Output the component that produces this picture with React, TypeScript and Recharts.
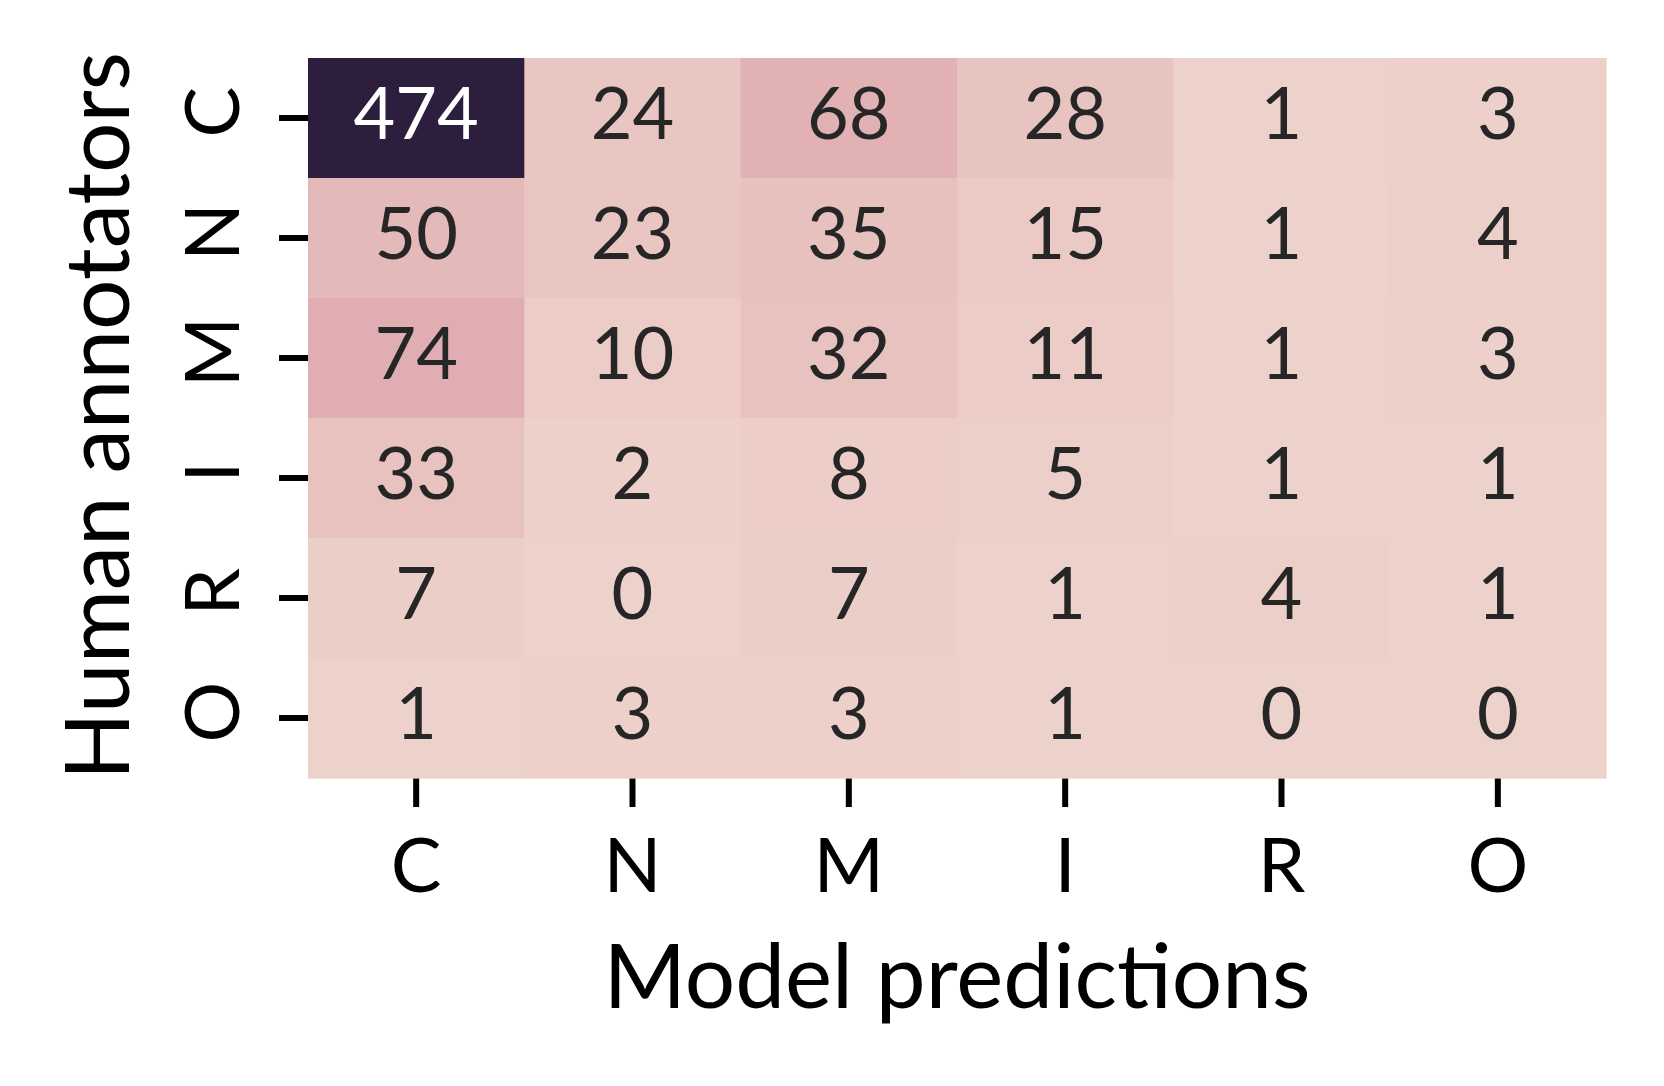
import React from 'react'
import { ScatterChart, Scatter, XAxis, YAxis, Label } from 'recharts'

const W = 1664
const H = 1086
const PLOT_LEFT = 308
const PLOT_TOP = 58
const PLOT_W = 1298
const PLOT_H = 720
const FONT = 'Lato, "Noto Sans", sans-serif'

const predLabels = ['C', 'N', 'M', 'I', 'R', 'O']
const humanLabels = ['C', 'N', 'M', 'I', 'R', 'O']

// rows = human annotators, columns = model predictions
const humanC = [474, 24, 68, 28, 1, 3]
const humanN = [50, 23, 35, 15, 1, 4]
const humanM = [74, 10, 32, 11, 1, 3]
const humanI = [33, 2, 8, 5, 1, 1]
const humanR = [7, 0, 7, 1, 4, 1]
const humanO = [1, 3, 3, 1, 0, 0]
const rows = [humanC, humanN, humanM, humanI, humanR, humanO]

const VMAX = Math.max(...rows.flat())

// seaborn cubehelix_palette(as_cmap=True) defaults
function cubehelix(x: number): [number, number, number] {
  const start = 0, rot = 0.4, hue = 0.8
  const a = (hue * x * (1 - x)) / 2
  const phi = 2 * Math.PI * (start / 3 + rot * x)
  const c = (p0: number, p1: number) =>
    Math.min(1, Math.max(0, x + a * (p0 * Math.cos(phi) + p1 * Math.sin(phi))))
  return [c(-0.14861, 1.78277), c(-0.29227, -0.90649), c(1.97294, 0)]
}

function colorFor(v: number) {
  const idx = Math.min(255, Math.floor((v / VMAX) * 256))
  const x = 0.85 + (0.15 - 0.85) * (idx / 255)
  const [r, g, b] = cubehelix(x)
  const lin = (u: number) => (u <= 0.03928 ? u / 12.92 : Math.pow((u + 0.055) / 1.055, 2.4))
  const lum = 0.2126 * lin(r) + 0.7152 * lin(g) + 0.0722 * lin(b)
  const hex = (u: number) => Math.round(u * 255).toString(16).padStart(2, '0')
  return { fill: `#${hex(r)}${hex(g)}${hex(b)}`, text: lum > 0.408 ? '#262626' : '#ffffff' }
}

const cells = rows.flatMap((row, r) =>
  row.map((value, c) => ({ x: c + 0.5, y: r + 0.5, value }))
)

const CELL_W = PLOT_W / predLabels.length
const CELL_H = PLOT_H / humanLabels.length

function Cell(props: any) {
  const { cx, cy, payload } = props
  const { fill, text } = colorFor(payload.value)
  return (
    <g>
      <rect x={cx - CELL_W / 2} y={cy - CELL_H / 2} width={CELL_W + 0.6} height={CELL_H + 0.6} fill={fill} />
      <text x={cx} y={cy + 21} textAnchor="middle" fill={text} fontSize={72} fontFamily={FONT}>
        {payload.value}
      </text>
    </g>
  )
}

function XTick(props: any) {
  const { x, y, payload } = props
  return (
    <text x={x} y={y + 55} textAnchor="middle" fill="#000" fontSize={76} fontFamily={FONT}>
      {predLabels[Math.floor(payload.value)]}
    </text>
  )
}

function YTick(props: any) {
  const { x, y, payload } = props
  return (
    <text x={x} y={y - 6} textAnchor="middle" fill="#000" fontSize={76} fontFamily={FONT}
      transform={`rotate(-90, ${x}, ${y - 6})`}>
      {humanLabels[Math.floor(payload.value)]}
    </text>
  )
}

const ticks = predLabels.map((_, i) => i + 0.5)

export default function App() {
  return (
    <div style={{ position: 'absolute', left: 0, top: 0, width: W, height: H, background: '#fff' }}>
      <ScatterChart
        width={W}
        height={H}
        margin={{ top: PLOT_TOP, right: W - PLOT_LEFT - PLOT_W, bottom: 0, left: 0 }}
      >
        <XAxis
          type="number"
          dataKey="x"
          domain={[0, 6]}
          ticks={ticks}
          axisLine={false}
          tickSize={29}
          tickMargin={30}
          tickLine={{ stroke: '#000', strokeWidth: 6 }}
          tick={<XTick />}
          height={H - PLOT_TOP - PLOT_H}
          interval={0}
        >
          <Label
            content={(p: any) => {
              const vb = p.viewBox
              return (
                <text x={vb.x + vb.width / 2} y={vb.y + 230} textAnchor="middle" fill="#000" fontSize={89} fontFamily={FONT}>
                  Model predictions
                </text>
              )
            }}
          />
        </XAxis>
        <YAxis
          type="number"
          dataKey="y"
          domain={[0, 6]}
          reversed
          ticks={ticks}
          axisLine={false}
          tickSize={29}
          tickMargin={40}
          tickLine={{ stroke: '#000', strokeWidth: 6 }}
          tick={<YTick />}
          width={PLOT_LEFT}
          interval={0}
        >
          <Label
            content={(p: any) => {
              const vb = p.viewBox
              const cy = vb.y + vb.height / 2 - 2
              return (
                <text x={129} y={cy} textAnchor="middle" fill="#000" fontSize={89} fontFamily={FONT}
                  transform={`rotate(-90, 129, ${cy})`}>
                  Human annotators
                </text>
              )
            }}
          />
        </YAxis>
        <Scatter data={cells} shape={<Cell />} isAnimationActive={false} />
      </ScatterChart>
    </div>
  )
}
